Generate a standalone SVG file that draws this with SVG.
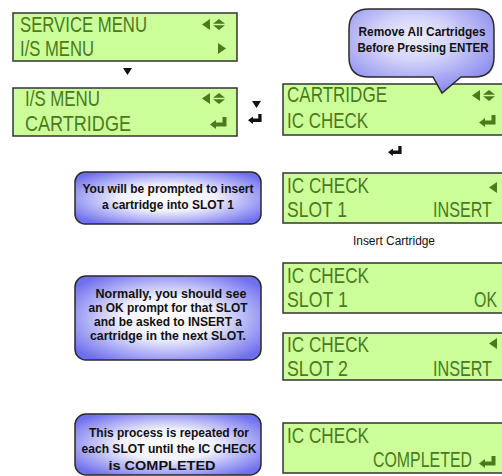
<svg xmlns="http://www.w3.org/2000/svg" xmlns:xlink="http://www.w3.org/1999/xlink" width="502" height="476" viewBox="0 0 502 476">
<style>
.lcd{fill:#ccff99;stroke:#333333;stroke-width:1.5}
.lt{font-family:"Liberation Sans",Arial,sans-serif;font-size:22px;fill:#4a7a1c}
.re{text-anchor:end}
.ic{fill:#4a7a1c}
.note{stroke:#2a2a2a;stroke-width:1.5}
.nt{font-family:"Liberation Sans",Arial,sans-serif;font-size:13.5px;font-weight:bold;fill:#111111;text-anchor:middle}
.cap{font-family:"Liberation Sans",Arial,sans-serif;font-size:12.5px;fill:#111111;text-anchor:middle}
</style>
<defs>
<radialGradient id="gBox" cx="50%" cy="50%" r="62%">
<stop offset="0" stop-color="#ffffff"/>
<stop offset="0.4" stop-color="#f2f2ff"/>
<stop offset="1" stop-color="#7070ee"/>
</radialGradient>
<radialGradient id="gBub" cx="45%" cy="35%" r="65%">
<stop offset="0" stop-color="#eeeeff"/>
<stop offset="0.4" stop-color="#d4d4fb"/>
<stop offset="1" stop-color="#8c8cee"/>
</radialGradient>
<symbol id="enter" viewBox="0 0 17 12" width="17" height="12" overflow="visible">
<path d="M0,7.5 L6,3 L6,5.5 L12.5,5.5 L12.5,0 L16.5,0 L16.5,9.5 L6,9.5 L6,12 Z"/>
</symbol>
<symbol id="left" viewBox="0 0 8 11" width="8" height="11" overflow="visible">
<path d="M8,0 L8,11 L0,5.5 Z"/>
</symbol>
<symbol id="right" viewBox="0 0 8 11" width="8" height="11" overflow="visible">
<path d="M0,0 L0,11 L8,5.5 Z"/>
</symbol>
<symbol id="ud" viewBox="0 0 12 11" width="12" height="11" overflow="visible">
<path d="M0,4.8 L6,0 L12,4.8 Z M0,6.2 L12,6.2 L6,11 Z"/>
</symbol>
</defs>

<g id="lcd-service-menu">
<rect class="lcd" x="13" y="13" width="224" height="48"/>
<text class="lt" x="20" y="32" textLength="127" lengthAdjust="spacingAndGlyphs">SERVICE MENU</text>
<text class="lt" x="20" y="56" textLength="74" lengthAdjust="spacingAndGlyphs">I/S MENU</text>
<use href="#left" class="ic" x="202" y="19"/>
<use href="#ud" class="ic" x="213" y="19"/>
<use href="#right" class="ic" x="218" y="43"/>
</g>

<g id="lcd-is-menu">
<rect class="lcd" x="13" y="88" width="224" height="48"/>
<text class="lt" x="25" y="106" textLength="75" lengthAdjust="spacingAndGlyphs">I/S MENU</text>
<text class="lt" x="25" y="131" textLength="106" lengthAdjust="spacingAndGlyphs">CARTRIDGE</text>
<use href="#left" class="ic" x="202" y="93"/>
<use href="#ud" class="ic" x="213" y="93"/>
<use href="#enter" class="ic" x="210" y="117"/>
</g>

<g id="lcd-cartridge">
<rect class="lcd" x="283" y="84" width="221" height="51"/>
<text class="lt" x="287" y="102" textLength="100" lengthAdjust="spacingAndGlyphs">CARTRIDGE</text>
<text class="lt" x="287" y="128" textLength="81" lengthAdjust="spacingAndGlyphs">IC CHECK</text>
<use href="#left" class="ic" x="472" y="90"/>
<use href="#ud" class="ic" x="483" y="90"/>
<use href="#enter" class="ic" x="479" y="115"/>
</g>

<g id="bubble-remove">
<path class="note" fill="url(#gBub)" d="M369,9 H474 Q494,9 494,29 V57 Q494,77 474,77 H461 L442,93 L433,77 H369 Q349,77 349,57 V29 Q349,9 369,9 Z"/>
<text class="nt" x="422" y="36" font-size="12.5" textLength="127" lengthAdjust="spacingAndGlyphs">Remove All Cartridges</text>
<text class="nt" x="423" y="52" font-size="12.5" textLength="131" lengthAdjust="spacingAndGlyphs">Before Pressing ENTER</text>
</g>

<g id="lcd-slot1-insert">
<rect class="lcd" x="283" y="173" width="221" height="50"/>
<text class="lt" x="287" y="193" textLength="82" lengthAdjust="spacingAndGlyphs">IC CHECK</text>
<text class="lt" x="287" y="217" textLength="60" lengthAdjust="spacingAndGlyphs">SLOT 1</text>
<text class="lt re" x="492" y="217" textLength="59" lengthAdjust="spacingAndGlyphs">INSERT</text>
<use href="#left" class="ic" x="489" y="182"/>
</g>

<g id="note-prompt">
<rect class="note" fill="url(#gBox)" x="75" y="172" width="186" height="52" rx="10"/>
<text class="nt" x="168" y="193" textLength="171" lengthAdjust="spacingAndGlyphs">You will be prompted to insert</text>
<text class="nt" x="168" y="209" textLength="132" lengthAdjust="spacingAndGlyphs">a cartridge into SLOT 1</text>
</g>

<g id="label-insert">
<text class="cap" x="394" y="245" textLength="82" lengthAdjust="spacingAndGlyphs">Insert Cartridge</text>
</g>

<g id="lcd-slot1-ok">
<rect class="lcd" x="283" y="263" width="221" height="50"/>
<text class="lt" x="287" y="283" textLength="82" lengthAdjust="spacingAndGlyphs">IC CHECK</text>
<text class="lt" x="287" y="307" textLength="61" lengthAdjust="spacingAndGlyphs">SLOT 1</text>
<text class="lt re" x="497" y="307" textLength="23" lengthAdjust="spacingAndGlyphs">OK</text>
</g>

<g id="note-normally">
<rect class="note" fill="url(#gBox)" x="75" y="276" width="186" height="84" rx="11"/>
<text class="nt" x="171" y="298" textLength="151" lengthAdjust="spacingAndGlyphs">Normally, you should see</text>
<text class="nt" x="168" y="312" textLength="159" lengthAdjust="spacingAndGlyphs">an OK prompt for that SLOT</text>
<text class="nt" x="168" y="326" textLength="148" lengthAdjust="spacingAndGlyphs">and be asked to INSERT a</text>
<text class="nt" x="168" y="340" textLength="156" lengthAdjust="spacingAndGlyphs">cartridge in the next SLOT.</text>
</g>

<g id="lcd-slot2-insert">
<rect class="lcd" x="283" y="333" width="221" height="47"/>
<text class="lt" x="287" y="352" textLength="82" lengthAdjust="spacingAndGlyphs">IC CHECK</text>
<text class="lt" x="287" y="376" textLength="61" lengthAdjust="spacingAndGlyphs">SLOT 2</text>
<text class="lt re" x="492" y="376" textLength="59" lengthAdjust="spacingAndGlyphs">INSERT</text>
<use href="#left" class="ic" x="489" y="338"/>
</g>

<g id="note-repeat">
<rect class="note" fill="url(#gBox)" x="75" y="414" width="186" height="61" rx="11"/>
<text class="nt" x="169" y="437" textLength="160" lengthAdjust="spacingAndGlyphs">This process is repeated for</text>
<text class="nt" x="169" y="453" textLength="175" lengthAdjust="spacingAndGlyphs">each SLOT until the IC CHECK</text>
<text class="nt" x="162" y="470" textLength="107" lengthAdjust="spacingAndGlyphs">is COMPLETED</text>
</g>

<g id="lcd-completed">
<rect class="lcd" x="283" y="423" width="221" height="50"/>
<text class="lt" x="287" y="443" textLength="82" lengthAdjust="spacingAndGlyphs">IC CHECK</text>
<text class="lt re" x="472" y="467" textLength="99" lengthAdjust="spacingAndGlyphs">COMPLETED</text>
<use href="#enter" class="ic" x="479" y="456"/>
</g>

<g id="connectors" fill="#111111">
<path d="M123,68 L132,68 L127.5,75 Z"/>
<path d="M252,101 L261,101 L256.5,108 Z"/>
<use href="#enter" x="248" y="114" width="14" height="10"/>
<use href="#enter" x="388" y="146" width="14" height="10"/>
</g>
</svg>
